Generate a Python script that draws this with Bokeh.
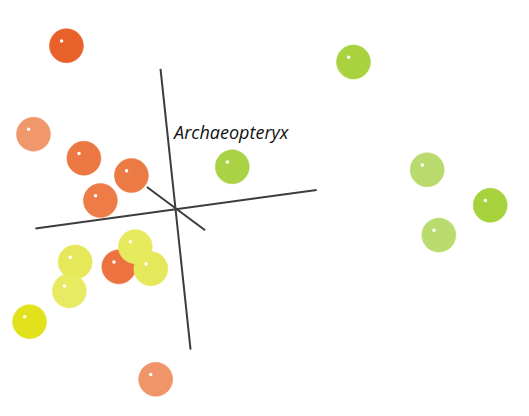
from bokeh.plotting import figure
from bokeh.models import Range1d, ColumnDataSource
from bokeh.core.properties import value
from bokeh.embed import file_html
from bokeh.resources import INLINE

# Point positions (projected coordinates) and colours
px = [68, 34, 86, 103, 135, 239, 364, 440, 505, 452, 122, 77, 71, 30, 155, 139, 160]
py = [47, 139, 164, 208, 182, 173, 64, 176, 213, 244, 277, 272, 302, 334, 279, 256, 394]
colors = ["#E8612A", "#F0976C", "#EC7843", "#EE7C47", "#EC7A45", "#A9D244",
          "#A8D23E", "#B9DA6C", "#A6D23C", "#BADB6E", "#EC7340", "#E6E85A",
          "#E8EA62", "#E2E21C", "#E6E85C", "#E8EA5E", "#F0946A"]

# Three projected axes (start/end)
ax_x0 = [165, 36, 151]
ax_y0 = [71, 237, 194]
ax_x1 = [196, 326, 211]
ax_y1 = [363, 197, 239]

label_text = ["Archaeopteryx"]
label_x = [179]
label_y = [137]

p = figure(width=513, height=400, output_backend="svg", toolbar_location=None,
           x_range=Range1d(0, 529), y_range=Range1d(416, 0),
           min_border=0, min_border_left=0, min_border_right=0,
           min_border_top=0, min_border_bottom=0)
p.axis.visible = False
p.grid.visible = False
p.outline_line_color = None
p.background_fill_color = "white"
p.border_fill_color = "white"

p.segment(x0=ax_x0, y0=ax_y0, x1=ax_x1, y1=ax_y1, line_color="#3c3c3c", line_width=2)

src = ColumnDataSource(dict(x=px, y=py, c=colors, hx=[v - 5 for v in px], hy=[v - 5 for v in py]))
p.scatter("x", "y", source=src, size=34, fill_color="c", line_color="c", line_width=1, line_alpha=0.5)
p.scatter("hx", "hy", source=src, size=3.5, fill_color="white", line_color=None)

p.text(x=label_x, y=label_y, text=label_text, text_font=value("Open Sans"),
       text_font_style="italic", text_font_size="18px", text_color="#111111",
       text_baseline="middle", text_align="left")

open("out.html", "w").write(file_html(p, INLINE))
